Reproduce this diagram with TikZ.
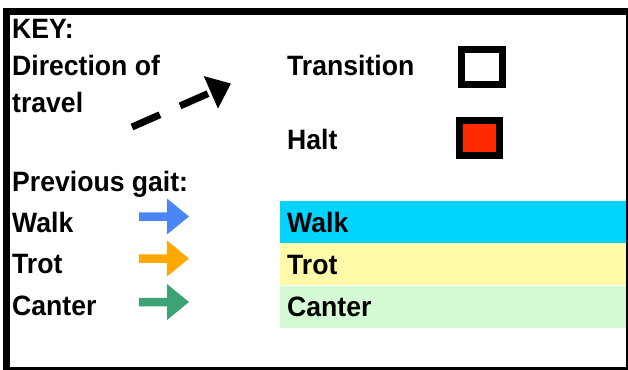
\documentclass[tikz,border=0pt]{standalone}
\usepackage{fontspec}
\setmainfont{Liberation Sans}[FakeStretch=0.95]
\usetikzlibrary{arrows.meta}
\definecolor{walkband}{HTML}{00D4FF}
\definecolor{trotband}{HTML}{FFFAA8}
\definecolor{canterband}{HTML}{D4FBD4}
\definecolor{walkarrow}{HTML}{4A86F6}
\definecolor{trotarrow}{HTML}{FFA800}
\definecolor{canterarrow}{HTML}{3CA375}
\definecolor{haltred}{HTML}{FF2A00}
\tikzset{
  lbl/.style={anchor=base west, inner sep=0pt, font=\fontsize{28}{32}\selectfont\bfseries},
  band/.style={anchor=west, minimum width=346pt, minimum height=42pt, inner xsep=7pt, inner ysep=0pt,
    text width=332pt, align=left, text height=20pt, text depth=0pt,
    font=\fontsize{28}{32}\selectfont\bfseries},
  keybox/.style={draw=black, line width=7pt, inner sep=0pt},
  blockarrow/.pic={\fill (0,-4.25) -- (28,-4.25) -- (28,-18) -- (50,0) -- (28,18) -- (28,4.25) -- (0,4.25) -- cycle;}
}
\begin{document}
\begin{tikzpicture}[x=1pt,y=-1pt]
\useasboundingbox (0,0) rectangle (628,369);
\begin{scope}
\clip (0,0) rectangle (628,369);
\fill[white] (0,0) rectangle (628,369);
\draw[line width=7pt] (6.5,11.5) rectangle (629.5,370.5);
\end{scope}

\node[lbl] (key) at (12,38) {KEY:};
\node[lbl] (dir) at (12,75) {Direction of};
\node[lbl] (travel) at (12,112) {travel};
\node[lbl] (trans) at (287,75) {Transition};
\node[lbl] (halt) at (287,149) {Halt};
\node[lbl] (prev) at (12,191) {Previous gait:};
\node[lbl] (walk) at (12,232) {Walk};
\node[lbl] (trot) at (12,273) {Trot};
\node[lbl] (canter) at (12,315) {Canter};

\node[keybox, minimum width=41pt, minimum height=35pt] (transbox) at (482,67) {};
\node[keybox, fill=haltred, minimum width=40pt, minimum height=35pt] (haltbox) at (479.5,138) {};

\coordinate (dirstart) at (132,127);
\coordinate (dirend) at (231,83.5);
\draw[line width=7pt, dash pattern=on 30.5pt off 22pt, -{Triangle[length=22pt,width=34pt]}] (dirstart) -- (dirend);

\node[band, fill=walkband] (walkband) at (280,222) {Walk};
\node[band, fill=trotband] (trotband) at (280,264) {Trot};
\node[band, fill=canterband] (canterband) at (280,306.5) {Canter};

\pic[fill=walkarrow, walkarrow] at (139,216.5) {blockarrow};
\pic[fill=trotarrow, trotarrow] at (139,258.5) {blockarrow};
\pic[fill=canterarrow, canterarrow] at (139,302) {blockarrow};
\end{tikzpicture}
\end{document}
